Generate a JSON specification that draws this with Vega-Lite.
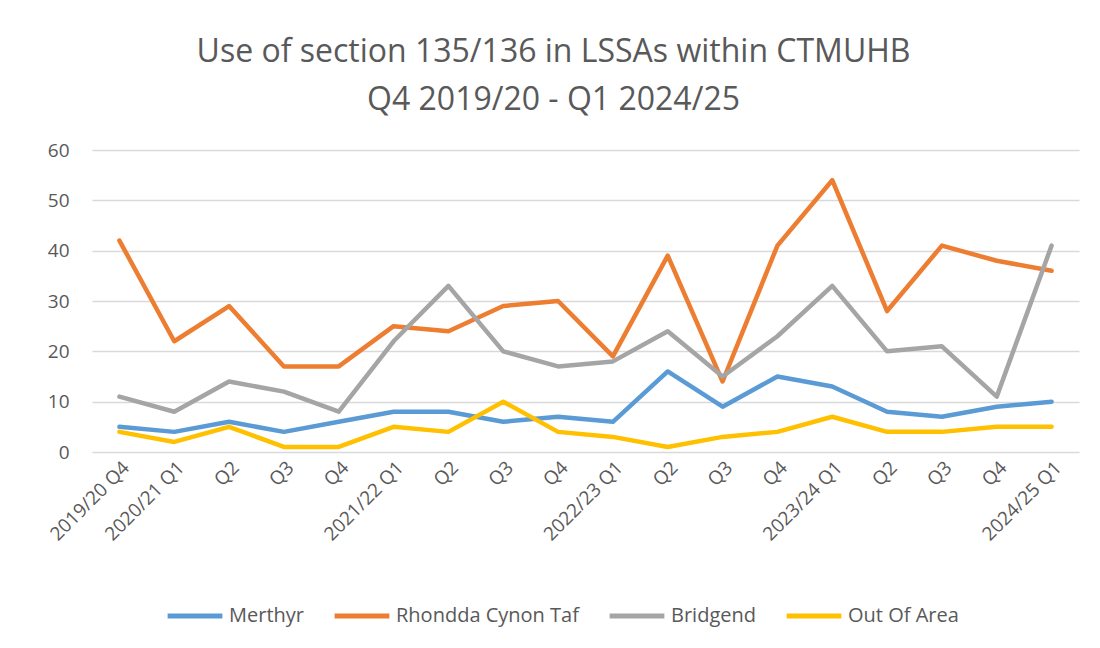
{
  "$schema": "https://vega.github.io/schema/vega-lite/v6.json",
  "width": 987,
  "height": 302,
  "autosize": {"type": "none"},
  "padding": {"left": 92, "top": 150, "right": 21, "bottom": 196},
  "background": "white",
  "title": {
    "text": ["Use of section 135/136 in LSSAs within CTMUHB", "Q4 2019/20 - Q1 2024/25"],
    "fontSize": 32,
    "font": "Open Sans",
    "fontWeight": "normal",
    "color": "#595959",
    "anchor": "middle",
    "lineHeight": 48,
    "offset": 24,
    "dx": -32
  },
  "data": {
    "values": [
      {"period": "2019/20 Q4", "series": "Merthyr", "value": 5},
      {"period": "2020/21 Q1", "series": "Merthyr", "value": 4},
      {"period": "2020/21 Q2", "series": "Merthyr", "value": 6},
      {"period": "2020/21 Q3", "series": "Merthyr", "value": 4},
      {"period": "2020/21 Q4", "series": "Merthyr", "value": 6},
      {"period": "2021/22 Q1", "series": "Merthyr", "value": 8},
      {"period": "2021/22 Q2", "series": "Merthyr", "value": 8},
      {"period": "2021/22 Q3", "series": "Merthyr", "value": 6},
      {"period": "2021/22 Q4", "series": "Merthyr", "value": 7},
      {"period": "2022/23 Q1", "series": "Merthyr", "value": 6},
      {"period": "2022/23 Q2", "series": "Merthyr", "value": 16},
      {"period": "2022/23 Q3", "series": "Merthyr", "value": 9},
      {"period": "2022/23 Q4", "series": "Merthyr", "value": 15},
      {"period": "2023/24 Q1", "series": "Merthyr", "value": 13},
      {"period": "2023/24 Q2", "series": "Merthyr", "value": 8},
      {"period": "2023/24 Q3", "series": "Merthyr", "value": 7},
      {"period": "2023/24 Q4", "series": "Merthyr", "value": 9},
      {"period": "2024/25 Q1", "series": "Merthyr", "value": 10},
      {"period": "2019/20 Q4", "series": "Rhondda Cynon Taf", "value": 42},
      {"period": "2020/21 Q1", "series": "Rhondda Cynon Taf", "value": 22},
      {"period": "2020/21 Q2", "series": "Rhondda Cynon Taf", "value": 29},
      {"period": "2020/21 Q3", "series": "Rhondda Cynon Taf", "value": 17},
      {"period": "2020/21 Q4", "series": "Rhondda Cynon Taf", "value": 17},
      {"period": "2021/22 Q1", "series": "Rhondda Cynon Taf", "value": 25},
      {"period": "2021/22 Q2", "series": "Rhondda Cynon Taf", "value": 24},
      {"period": "2021/22 Q3", "series": "Rhondda Cynon Taf", "value": 29},
      {"period": "2021/22 Q4", "series": "Rhondda Cynon Taf", "value": 30},
      {"period": "2022/23 Q1", "series": "Rhondda Cynon Taf", "value": 19},
      {"period": "2022/23 Q2", "series": "Rhondda Cynon Taf", "value": 39},
      {"period": "2022/23 Q3", "series": "Rhondda Cynon Taf", "value": 14},
      {"period": "2022/23 Q4", "series": "Rhondda Cynon Taf", "value": 41},
      {"period": "2023/24 Q1", "series": "Rhondda Cynon Taf", "value": 54},
      {"period": "2023/24 Q2", "series": "Rhondda Cynon Taf", "value": 28},
      {"period": "2023/24 Q3", "series": "Rhondda Cynon Taf", "value": 41},
      {"period": "2023/24 Q4", "series": "Rhondda Cynon Taf", "value": 38},
      {"period": "2024/25 Q1", "series": "Rhondda Cynon Taf", "value": 36},
      {"period": "2019/20 Q4", "series": "Bridgend", "value": 11},
      {"period": "2020/21 Q1", "series": "Bridgend", "value": 8},
      {"period": "2020/21 Q2", "series": "Bridgend", "value": 14},
      {"period": "2020/21 Q3", "series": "Bridgend", "value": 12},
      {"period": "2020/21 Q4", "series": "Bridgend", "value": 8},
      {"period": "2021/22 Q1", "series": "Bridgend", "value": 22},
      {"period": "2021/22 Q2", "series": "Bridgend", "value": 33},
      {"period": "2021/22 Q3", "series": "Bridgend", "value": 20},
      {"period": "2021/22 Q4", "series": "Bridgend", "value": 17},
      {"period": "2022/23 Q1", "series": "Bridgend", "value": 18},
      {"period": "2022/23 Q2", "series": "Bridgend", "value": 24},
      {"period": "2022/23 Q3", "series": "Bridgend", "value": 15},
      {"period": "2022/23 Q4", "series": "Bridgend", "value": 23},
      {"period": "2023/24 Q1", "series": "Bridgend", "value": 33},
      {"period": "2023/24 Q2", "series": "Bridgend", "value": 20},
      {"period": "2023/24 Q3", "series": "Bridgend", "value": 21},
      {"period": "2023/24 Q4", "series": "Bridgend", "value": 11},
      {"period": "2024/25 Q1", "series": "Bridgend", "value": 41},
      {"period": "2019/20 Q4", "series": "Out Of Area", "value": 4},
      {"period": "2020/21 Q1", "series": "Out Of Area", "value": 2},
      {"period": "2020/21 Q2", "series": "Out Of Area", "value": 5},
      {"period": "2020/21 Q3", "series": "Out Of Area", "value": 1},
      {"period": "2020/21 Q4", "series": "Out Of Area", "value": 1},
      {"period": "2021/22 Q1", "series": "Out Of Area", "value": 5},
      {"period": "2021/22 Q2", "series": "Out Of Area", "value": 4},
      {"period": "2021/22 Q3", "series": "Out Of Area", "value": 10},
      {"period": "2021/22 Q4", "series": "Out Of Area", "value": 4},
      {"period": "2022/23 Q1", "series": "Out Of Area", "value": 3},
      {"period": "2022/23 Q2", "series": "Out Of Area", "value": 1},
      {"period": "2022/23 Q3", "series": "Out Of Area", "value": 3},
      {"period": "2022/23 Q4", "series": "Out Of Area", "value": 4},
      {"period": "2023/24 Q1", "series": "Out Of Area", "value": 7},
      {"period": "2023/24 Q2", "series": "Out Of Area", "value": 4},
      {"period": "2023/24 Q3", "series": "Out Of Area", "value": 4},
      {"period": "2023/24 Q4", "series": "Out Of Area", "value": 5},
      {"period": "2024/25 Q1", "series": "Out Of Area", "value": 5}
    ]
  },
  "mark": {"type": "line", "strokeWidth": 4.5, "strokeCap": "round", "strokeJoin": "round"},
  "encoding": {
    "x": {
      "field": "period",
      "type": "ordinal",
      "sort": null,
      "scale": {"type": "point", "padding": 0.5},
      "axis": {
        "title": null,
        "labelAngle": -45,
        "labelFontSize": 19,
        "labelFont": "Open Sans",
        "labelColor": "#595959",
        "labelPadding": 6,
        "ticks": false,
        "domain": false,
        "grid": false,
        "labelExpr": "(slice(datum.value, 8) == 'Q1' || datum.value == '2019/20 Q4') ? datum.value : slice(datum.value, 8)"
      }
    },
    "y": {
      "field": "value",
      "type": "quantitative",
      "scale": {"domain": [0, 60], "nice": false},
      "axis": {
        "title": null,
        "values": [0, 10, 20, 30, 40, 50, 60],
        "labelFontSize": 19,
        "labelFont": "Open Sans",
        "labelColor": "#595959",
        "labelPadding": 23,
        "ticks": false,
        "domain": false,
        "grid": true,
        "gridColor": "#D9D9D9",
        "gridWidth": 1.5
      }
    },
    "color": {
      "field": "series",
      "type": "nominal",
      "scale": {
        "domain": ["Merthyr", "Rhondda Cynon Taf", "Bridgend", "Out Of Area"],
        "range": ["#5B9BD5", "#ED7D31", "#A5A5A5", "#FFC000"]
      },
      "legend": {
        "title": null,
        "orient": "none",
        "direction": "horizontal",
        "legendX": 73,
        "legendY": 436,
        "symbolType": "stroke",
        "symbolStrokeWidth": 5,
        "symbolSize": 3000,
        "labelFontSize": 20,
        "labelFont": "Open Sans",
        "labelColor": "#595959",
        "labelOffset": 4,
        "labelLimit": 400,
        "columnPadding": 20
      }
    }
  },
  "config": {
    "view": {"stroke": null}
  }
}
